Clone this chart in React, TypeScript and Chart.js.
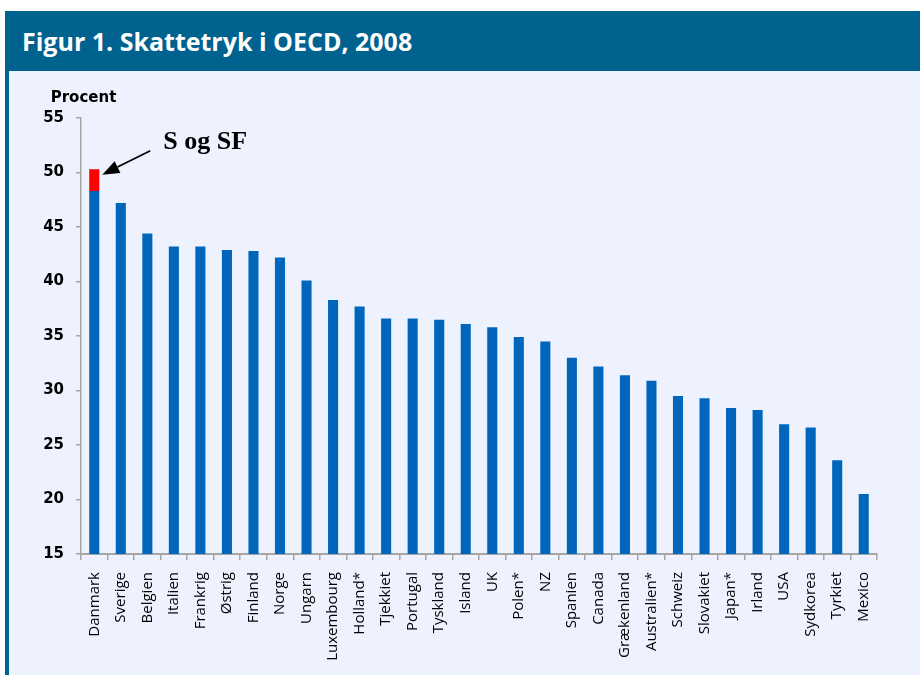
import React, { useEffect, useRef } from "react";
import { Chart, registerables } from "chart.js";

Chart.register(...registerables);

const categories: string[] = [
  "Danmark", "Sverige", "Belgien", "Italien", "Frankrig", "Østrig", "Finland", "Norge", "Ungarn",
  "Luxembourg", "Holland*", "Tjekkiet", "Portugal", "Tyskland", "Island", "UK", "Polen*", "NZ",
  "Spanien", "Canada", "Grækenland", "Australien*", "Schweiz", "Slovakiet", "Japan*", "Irland",
  "USA", "Sydkorea", "Tyrkiet", "Mexico",
];

const taxBase: number[] = [
  48.3, 47.2, 44.4, 43.2, 43.2, 42.9, 42.8, 42.2, 40.1,
  38.3, 37.7, 36.6, 36.6, 36.5, 36.1, 35.8, 34.9, 34.5,
  33.0, 32.2, 31.4, 30.9, 29.5, 29.3, 28.4, 28.2,
  26.9, 26.6, 23.6, 20.5,
];

const sSfExtra: (number | null)[] = [
  2.0, null, null, null, null, null, null, null, null,
  null, null, null, null, null, null, null, null, null,
  null, null, null, null, null, null, null, null,
  null, null, null, null,
];

const yTicksMin = 15;
const yTicksMax = 55;
const yTickStep = 5;

const titleText = "Figur 1. Skattetryk i OECD, 2008";
const yAxisTitle = "Procent";
const annotationText = "S og SF";
const arrowTipValue = 49.8;

const HEADER = "#00628F";
const BG = "#EEF2FE";
const BAR_BLUE = "#0066BC";
const BAR_RED = "#FF0000";
const AXIS = "#A6A6A6";

const annotationPlugin = {
  id: "annotations",
  afterDatasetsDraw(chart: any) {
    const { ctx, chartArea, scales } = chart;
    ctx.save();
    ctx.font = "bold 15px 'DejaVu Sans'";
    ctx.fillStyle = "#000";
    ctx.textAlign = "center";
    ctx.textBaseline = "alphabetic";
    ctx.fillText(yAxisTitle, chartArea.left + 2.5, chartArea.top - 16);

    const meta = chart.getDatasetMeta(1);
    const bar = meta.data[0];
    if (bar) {
      const tipX = bar.x + bar.width / 2 + 3;
      const tipY = scales.y.getPixelForValue(arrowTipValue);
      const tailX = tipX + 48;
      const tailY = tipY - 24;
      const dx = tailX - tipX;
      const dy = tailY - tipY;
      const len = Math.sqrt(dx * dx + dy * dy);
      const ux = dx / len;
      const uy = dy / len;
      const headLen = 17;
      const headHalf = 6.5;
      const bx = tipX + ux * headLen;
      const by = tipY + uy * headLen;
      ctx.strokeStyle = "#000";
      ctx.lineWidth = 1.75;
      ctx.beginPath();
      ctx.moveTo(bx, by);
      ctx.lineTo(tailX, tailY);
      ctx.stroke();
      ctx.fillStyle = "#000";
      ctx.beginPath();
      ctx.moveTo(tipX, tipY);
      ctx.lineTo(bx - uy * headHalf, by + ux * headHalf);
      ctx.lineTo(bx + uy * headHalf, by - ux * headHalf);
      ctx.closePath();
      ctx.fill();

      ctx.font = "bold 26px 'Liberation Serif'";
      ctx.textAlign = "left";
      ctx.textBaseline = "alphabetic";
      ctx.fillText(annotationText, tipX + 61, tipY - 26);
    }
    ctx.restore();
  },
};

function BarChart() {
  const ref = useRef<HTMLCanvasElement | null>(null);
  useEffect(() => {
    if (!ref.current) return;
    const chart = new Chart(ref.current, {
      type: "bar",
      data: {
        labels: categories,
        datasets: [
          {
            label: "Skattetryk",
            data: taxBase,
            backgroundColor: BAR_BLUE,
            borderWidth: 0,
            barPercentage: 0.38,
            categoryPercentage: 1,
          },
          {
            label: "S og SF",
            data: sSfExtra,
            backgroundColor: BAR_RED,
            borderWidth: 0,
            barPercentage: 0.38,
            categoryPercentage: 1,
          },
        ],
      },
      options: {
        responsive: false,
        animation: false,
        devicePixelRatio: 1,
        layout: { padding: { top: 47, right: 43, left: 0, bottom: 0 } },
        plugins: {
          legend: { display: false },
          tooltip: { enabled: false },
          title: { display: false },
        },
        scales: {
          x: {
            stacked: true,
            grid: {
              display: true,
              drawOnChartArea: false,
              drawTicks: true,
              tickLength: 6,
              color: AXIS,
              lineWidth: 1.5,
              offset: true,
            },
            border: { display: true, color: AXIS, width: 2 },
            ticks: {
              autoSkip: false,
              maxRotation: 90,
              minRotation: 90,
              padding: 12,
              color: "#000",
              font: { family: "'Open Sans'", size: 15 },
            },
            afterFit(scale: any) {
              scale.height = 121;
            },
          },
          y: {
            stacked: true,
            min: yTicksMin,
            max: yTicksMax,
            ticks: {
              stepSize: yTickStep,
              padding: 12,
              color: "#000",
              font: { family: "'DejaVu Sans'", size: 15, weight: "bold" },
            },
            grid: {
              display: true,
              drawOnChartArea: false,
              drawTicks: true,
              tickLength: 5,
              color: AXIS,
              lineWidth: 1.5,
            },
            border: { display: true, color: AXIS, width: 1.5 },
            afterFit(scale: any) {
              scale.width = 72;
            },
          },
        },
      },
      plugins: [annotationPlugin],
    } as any);
    return () => chart.destroy();
  }, []);
  return <canvas ref={ref} width={911} height={604} style={{ display: "block" }} />;
}

export default function App() {
  return (
    <div
      style={{
        position: "absolute",
        left: 0,
        top: 0,
        width: 920,
        height: 675,
        background: "#FFFFFF",
        overflow: "hidden",
      }}
    >
      <div
        style={{
          position: "absolute",
          left: 5,
          top: 11,
          width: 915,
          height: 60,
          background: HEADER,
          color: "#FFFFFF",
          fontFamily: "'Open Sans', sans-serif",
          fontWeight: 700,
          fontSize: 25,
          lineHeight: "60px",
          paddingLeft: 17,
          boxSizing: "border-box",
          whiteSpace: "nowrap",
        }}
      >
        {titleText}
      </div>
      <div
        style={{
          position: "absolute",
          left: 5,
          top: 71,
          width: 4,
          height: 604,
          background: HEADER,
        }}
      />
      <div
        style={{
          position: "absolute",
          left: 9,
          top: 71,
          width: 911,
          height: 604,
          background: BG,
        }}
      >
        <BarChart />
      </div>
    </div>
  );
}
